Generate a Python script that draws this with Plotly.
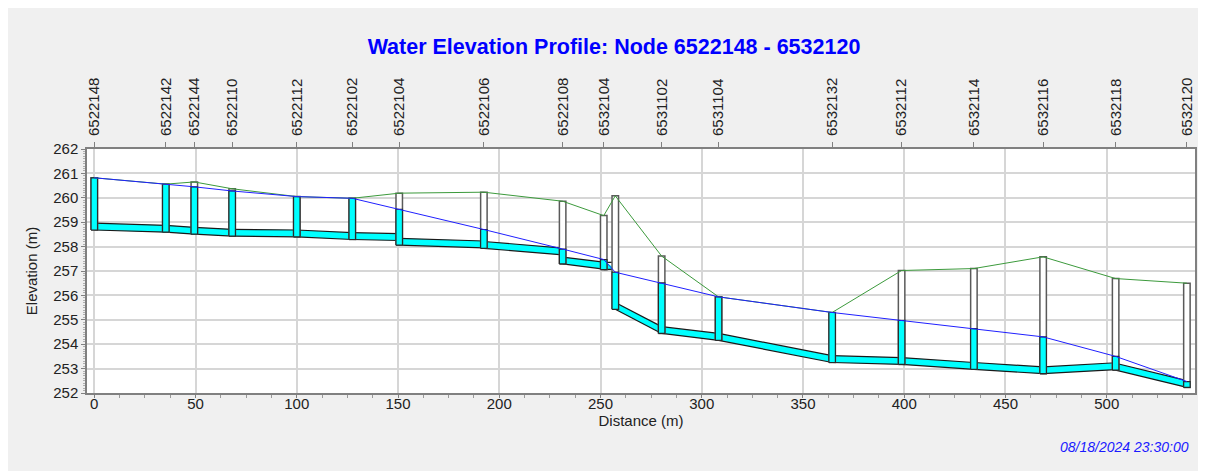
import plotly.graph_objects as go

# ---------------- data ----------------
node_labels = ["6522148", "6522142", "6522144", "6522110", "6522112", "6522102",
               "6522104", "6522106", "6522108", "6532104", "", "6531102",
               "6531104", "6532132", "6532112", "6532114", "6532116", "6532118",
               "6532120"]
node_dist = [0.0, 35.3, 49.4, 68.1, 100.0, 127.4, 150.6, 192.4, 231.3, 251.6,
             257.3, 280.2, 308.3, 364.4, 398.7, 434.4, 468.6, 504.4, 539.6]
node_invert = [258.68, 258.59, 258.51, 258.43, 258.40, 258.29, 258.06, 257.93,
               257.29, 257.06, 255.43, 254.44, 254.16, 253.25, 253.17, 252.97,
               252.79, 252.94, 252.23]
node_ground = [260.82, 260.56, 260.65, 260.37, 260.05, 259.98, 260.19, 260.23,
               259.86, 259.27, 260.08, 257.61, 255.94, 255.30, 257.02, 257.10,
               257.58, 256.69, 256.50]
node_water = [260.82, 260.56, 260.45, 260.28, 260.05, 259.98, 259.53, 258.70,
              257.90, 257.47, 256.95, 256.51, 255.94, 255.30, 254.98, 254.64,
              254.30, 253.50, 252.47]
link_up_invert = [258.68, 258.59, 258.51, 258.43, 258.40, 258.29, 258.06, 257.93,
                  257.29, 257.06, 255.43, 254.44, 254.16, 253.25, 253.17, 252.97,
                  252.79, 252.94]
link_dn_invert = [258.59, 258.51, 258.43, 258.40, 258.29, 258.25, 257.95, 257.66,
                  257.08, 257.08, 254.44, 254.16, 253.25, 253.17, 252.97, 252.79,
                  252.96, 252.23]
link_height = [0.28, 0.28, 0.28, 0.28, 0.28, 0.28, 0.28, 0.28, 0.28, 0.28,
               0.28, 0.28, 0.28, 0.28, 0.28, 0.28, 0.28, 0.28]
x_ticks = [0, 50, 100, 150, 200, 250, 300, 350, 400, 450, 500]
y_ticks = [252, 253, 254, 255, 256, 257, 258, 259, 260, 261, 262]
title_text = "Water Elevation Profile: Node 6522148 - 6532120"
date_text = "08/18/2024 23:30:00"

# ---------------- styles ----------------
NODE_W = 3.2
FONT = "Liberation Sans, Arial, sans-serif"
CYAN = "#00ffff"

# ---------------- geometry built from data ----------------
fill_x, fill_y, pipe_x, pipe_y = [], [], [], []
for i in range(len(link_up_invert)):
    x0, x1 = node_dist[i], node_dist[i + 1]
    b0, b1 = link_up_invert[i], link_dn_invert[i]
    c0, c1 = b0 + link_height[i], b1 + link_height[i]
    w0, w1 = node_water[i], node_water[i + 1]
    xs = [x0]
    tops = [max(b0, min(c0, w0))]
    d0, d1 = w0 - c0, w1 - c1
    if d0 * d1 < 0:
        t = d0 / (d0 - d1)
        xs.append(x0 + t * (x1 - x0))
        tops.append(c0 + t * (c1 - c0))
    xs.append(x1)
    tops.append(max(b1, min(c1, w1)))
    fill_x += xs + [x1, x0, x0, None]
    fill_y += tops + [b1, b0, tops[0], None]
    pipe_x += [x0, x1, None, x0, x1, None]
    pipe_y += [c0, c1, None, b0, b1, None]

node_x, node_y, wat_x, wat_y = [], [], [], []
for d, inv, g, w in zip(node_dist, node_invert, node_ground, node_water):
    l, r = d - NODE_W / 2, d + NODE_W / 2
    node_x += [l, r, r, l, l, None]
    node_y += [inv, inv, g, g, inv, None]
    top = min(w, g)
    wat_x += [l, r, r, l, l, None]
    wat_y += [inv, inv, top, top, inv, None]

fig = go.Figure()
fig.add_trace(go.Scatter(x=fill_x, y=fill_y, mode="lines", fill="toself",
                         fillcolor=CYAN, line=dict(width=0), hoverinfo="skip",
                         showlegend=False))
fig.add_trace(go.Scatter(x=pipe_x, y=pipe_y, mode="lines",
                         line=dict(color="#1a1a1a", width=1.2), hoverinfo="skip",
                         showlegend=False))
fig.add_trace(go.Scatter(x=node_x, y=node_y, mode="lines", fill="toself",
                         fillcolor="white", line=dict(color="#5a5a5a", width=1.5),
                         hoverinfo="skip", showlegend=False))
fig.add_trace(go.Scatter(x=wat_x, y=wat_y, mode="lines", fill="toself",
                         fillcolor=CYAN, line=dict(color="#2a2a2a", width=1.2),
                         hoverinfo="skip", showlegend=False))
fig.add_trace(go.Scatter(x=node_dist, y=node_ground, mode="lines",
                         line=dict(color="#3c9a3c", width=1), name="Ground",
                         showlegend=False))
fig.add_trace(go.Scatter(x=node_dist, y=node_water, mode="lines",
                         line=dict(color="#2020ff", width=1), name="HGL",
                         showlegend=False))
# invisible trace to anchor the top axis
fig.add_trace(go.Scatter(x=node_dist, y=node_ground, xaxis="x2", mode="lines",
                         line=dict(width=0), hoverinfo="skip", showlegend=False))

lab_vals = [d for d, l in zip(node_dist, node_labels) if l]
lab_text = [l for l in node_labels if l]

# figure sits at (8, 8) inside the page (body margin)
W, H = 1206, 463
ML, MR, MT, MB = 79, 19, 141, 78
PW, PH = W - ML - MR, H - MT - MB
XR = [-3.6, 543.6]

fig.update_layout(
    width=W, height=H,
    margin=dict(l=ML, r=MR, t=MT, b=MB, pad=0),
    paper_bgcolor="#f0f0f0", plot_bgcolor="white",
    font=dict(family=FONT, size=15, color="#222222"),
    title=dict(text="<b>" + title_text + "</b>", x=606 / W, xref="container",
               xanchor="center", y=1 - 38 / H, yref="container", yanchor="middle",
               font=dict(family=FONT, size=21.5, color="#0000ff")),
    xaxis=dict(range=XR, tickvals=x_ticks, showgrid=True, gridcolor="#d6d6d6",
               gridwidth=1.5, zeroline=False, showline=True, linecolor="#808080",
               linewidth=1.5, mirror=True, ticks="outside", ticklen=3,
               tickcolor="#808080", ticklabelstandoff=-7,
               minor=dict(dtick=12.5, ticks="outside", ticklen=3,
                          tickcolor="#9a9a9a", showgrid=False),
               tickfont=dict(size=15, color="#222222"),
               title=dict(text="Distance (m)", font=dict(size=15), standoff=0)),
    xaxis2=dict(range=XR, overlaying="x", side="top", tickvals=lab_vals,
                ticktext=lab_text, tickangle=-90, showgrid=False, zeroline=False,
                showline=False, ticks="outside", ticklen=6, tickcolor="#808080",
                ticklabelstandoff=3,
                tickfont=dict(size=15, color="#222222")),
    yaxis=dict(range=[252, 262], tickvals=y_ticks, showgrid=True,
               gridcolor="#d6d6d6", gridwidth=1.5, zeroline=False, showline=True,
               linecolor="#808080", linewidth=1.5, mirror=True, ticks="outside",
               ticklen=4, tickcolor="#808080",
               minor=dict(dtick=0.1, ticks="outside", ticklen=2,
                          tickcolor="#b0b0b0", showgrid=False),
               tickfont=dict(size=15, color="#222222"),
               title=dict(text="Elevation (m)", font=dict(size=15), standoff=12)),
    annotations=[dict(text="<i>" + date_text + "</i>", xref="paper", yref="paper",
                      x=(1183 - ML) / PW, y=(MT + PH - 439) / PH,
                      xanchor="right", yanchor="middle", showarrow=False,
                      font=dict(family=FONT, size=14, color="#1a1aff"))],
)

fig.write_html("out.html")
